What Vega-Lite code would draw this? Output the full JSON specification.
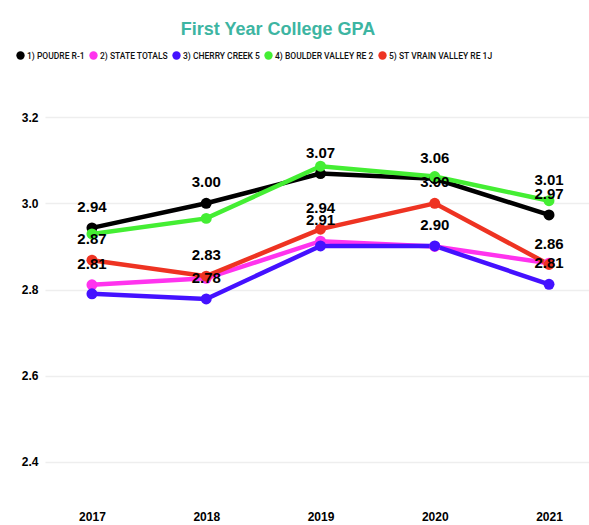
{
  "$schema": "https://vega.github.io/schema/vega-lite/v6.json",
  "width": 544,
  "height": 431,
  "autosize": {"type": "none"},
  "padding": {"left": 45, "top": 74, "right": 0, "bottom": 20},
  "background": "white",
  "title": {
    "text": "First Year College GPA",
    "color": "#3DB5A2",
    "font": "Liberation Sans",
    "fontSize": 18,
    "fontWeight": "bold",
    "anchor": "middle",
    "dx": -39,
    "offset": 12
  },
  "config": {
    "view": {"stroke": null},
    "font": "Liberation Sans"
  },
  "data": {
    "values": [
      {"district": "1) POUDRE R-1", "year": 2017, "gpa": 2.943, "labeled": true},
      {"district": "1) POUDRE R-1", "year": 2018, "gpa": 3.0, "labeled": true},
      {"district": "1) POUDRE R-1", "year": 2019, "gpa": 3.069, "labeled": true},
      {"district": "1) POUDRE R-1", "year": 2020, "gpa": 3.057, "labeled": true},
      {"district": "1) POUDRE R-1", "year": 2021, "gpa": 2.973, "labeled": true},
      {"district": "2) STATE TOTALS", "year": 2017, "gpa": 2.811, "labeled": true},
      {"district": "2) STATE TOTALS", "year": 2018, "gpa": 2.826, "labeled": false},
      {"district": "2) STATE TOTALS", "year": 2019, "gpa": 2.912, "labeled": true},
      {"district": "2) STATE TOTALS", "year": 2020, "gpa": 2.9, "labeled": false},
      {"district": "2) STATE TOTALS", "year": 2021, "gpa": 2.861, "labeled": false},
      {"district": "3) CHERRY CREEK 5", "year": 2017, "gpa": 2.79, "labeled": false},
      {"district": "3) CHERRY CREEK 5", "year": 2018, "gpa": 2.778, "labeled": true},
      {"district": "3) CHERRY CREEK 5", "year": 2019, "gpa": 2.901, "labeled": false},
      {"district": "3) CHERRY CREEK 5", "year": 2020, "gpa": 2.901, "labeled": true},
      {"district": "3) CHERRY CREEK 5", "year": 2021, "gpa": 2.812, "labeled": true},
      {"district": "4) BOULDER VALLEY RE 2", "year": 2017, "gpa": 2.929, "labeled": false},
      {"district": "4) BOULDER VALLEY RE 2", "year": 2018, "gpa": 2.965, "labeled": false},
      {"district": "4) BOULDER VALLEY RE 2", "year": 2019, "gpa": 3.086, "labeled": false},
      {"district": "4) BOULDER VALLEY RE 2", "year": 2020, "gpa": 3.062, "labeled": false},
      {"district": "4) BOULDER VALLEY RE 2", "year": 2021, "gpa": 3.006, "labeled": true},
      {"district": "5) ST VRAIN VALLEY RE 1J", "year": 2017, "gpa": 2.868, "labeled": true},
      {"district": "5) ST VRAIN VALLEY RE 1J", "year": 2018, "gpa": 2.831, "labeled": true},
      {"district": "5) ST VRAIN VALLEY RE 1J", "year": 2019, "gpa": 2.94, "labeled": true},
      {"district": "5) ST VRAIN VALLEY RE 1J", "year": 2020, "gpa": 3.0, "labeled": true},
      {"district": "5) ST VRAIN VALLEY RE 1J", "year": 2021, "gpa": 2.858, "labeled": true}
    ]
  },
  "encoding": {
    "x": {
      "field": "year",
      "type": "quantitative",
      "scale": {"domain": [2016.589, 2021.35], "nice": false, "zero": false},
      "axis": {
        "title": null,
        "values": [2017, 2018, 2019, 2020, 2021],
        "format": "d",
        "grid": false,
        "domain": false,
        "ticks": false,
        "labelPadding": 6,
        "labelFontSize": 12,
        "labelFontWeight": "bold",
        "labelColor": "#000000",
        "labelFont": "Liberation Sans"
      }
    },
    "y": {
      "field": "gpa",
      "type": "quantitative",
      "scale": {"domain": [2.3, 3.3], "nice": false, "zero": false},
      "axis": {
        "title": null,
        "values": [2.4, 2.6, 2.8, 3.0, 3.2],
        "format": ".1f",
        "domain": false,
        "ticks": false,
        "gridColor": "#EEEEEE",
        "gridWidth": 1.5,
        "labelPadding": 7,
        "labelFontSize": 12,
        "labelFontWeight": "bold",
        "labelColor": "#000000",
        "labelFont": "Liberation Sans"
      }
    },
    "color": {
      "field": "district",
      "type": "nominal",
      "scale": {
        "domain": ["1) POUDRE R-1", "2) STATE TOTALS", "3) CHERRY CREEK 5", "4) BOULDER VALLEY RE 2", "5) ST VRAIN VALLEY RE 1J"],
        "range": ["#000000", "#FF33EE", "#4411FF", "#44EE33", "#EE3322"]
      },
      "legend": {
        "title": null,
        "orient": "none",
        "legendX": -29,
        "legendY": -23,
        "direction": "horizontal",
        "columns": 5,
        "symbolType": "circle",
        "symbolSize": 70,
        "symbolStrokeWidth": 0,
        "labelFont": "Roboto",
        "labelFontSize": 8.5,
        "labelFontWeight": 500,
        "labelColor": "#111111",
        "labelOffset": 2,
        "columnPadding": 4
      }
    }
  },
  "layer": [
    {
      "mark": {"type": "line", "strokeWidth": 4.5},
      "encoding": {"detail": {"field": "district"}}
    },
    {
      "mark": {"type": "point", "filled": true, "size": 120, "opacity": 1}
    },
    {
      "transform": [{"filter": "datum.labeled"}],
      "mark": {
        "type": "text",
        "baseline": "alphabetic",
        "dy": -16,
        "fontSize": 15,
        "fontWeight": "bold",
        "font": "Liberation Sans",
        "color": "#000000"
      },
      "encoding": {
        "text": {"field": "gpa", "type": "quantitative", "format": ".2f"},
        "color": {"value": "#000000"}
      }
    }
  ]
}
